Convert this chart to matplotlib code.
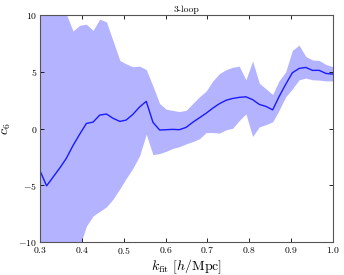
import matplotlib
matplotlib.use("Agg")
import matplotlib.pyplot as plt

plt.rcParams['mathtext.fontset'] = 'cm'
plt.rcParams['font.family'] = 'serif'
plt.rcParams['font.serif'] = ['cmr10', 'DejaVu Serif']
plt.rcParams['axes.formatter.use_mathtext'] = True
plt.rcParams['axes.unicode_minus'] = True

k_fit = [0.300, 0.316, 0.332, 0.348, 0.363, 0.379, 0.395, 0.411, 0.427, 0.443,
         0.459, 0.475, 0.491, 0.506, 0.522, 0.538, 0.554, 0.570, 0.586, 0.602,
         0.617, 0.633, 0.649, 0.665, 0.681, 0.697, 0.713, 0.729, 0.745, 0.760,
         0.776, 0.792, 0.808, 0.824, 0.840, 0.856, 0.871, 0.887, 0.903, 0.919,
         0.935, 0.951, 0.967, 0.983, 1.000]

c6_mean = [-3.7, -5.05, -4.25, -3.45, -2.63, -1.5, -0.5, 0.45, 0.57, 1.19,
           1.28, 0.9, 0.63, 0.75, 1.25, 1.9, 2.4, 0.55, -0.13, -0.1,
           -0.07, -0.1, 0.1, 0.55, 0.95, 1.35, 1.8, 2.2, 2.5, 2.65,
           2.75, 2.8, 2.55, 2.13, 1.95, 1.65, 2.8, 3.9, 4.92, 5.3,
           5.39, 5.13, 5.13, 4.86, 4.8]

c6_upper = [11.5, 11.5, 11.5, 11.5, 10.1, 8.6, 9.1, 9.2, 8.65, 9.65,
            9.4, 7.7, 6.0, 5.7, 5.45, 5.5, 5.2, 3.75, 2.2, 1.7,
            1.6, 1.5, 1.6, 2.2, 2.8, 3.3, 4.2, 4.85, 5.2, 5.4,
            5.5, 4.3, 5.95, 4.0, 3.5, 3.0, 4.2, 5.0, 6.9, 7.35,
            6.35, 6.05, 6.0, 5.65, 5.45]

c6_lower = [-11.5, -11.5, -11.5, -11.5, -11.5, -11.0, -10.4, -8.6, -7.7, -7.3,
            -6.9, -6.2, -5.3, -4.4, -3.5, -2.4, -0.5, -2.3, -2.2, -2.0,
            -1.75, -1.6, -1.35, -1.15, -0.9, -0.35, -0.35, -0.4, -0.1, 0.02,
            0.7, 1.3, -0.7, 0.15, 0.35, 0.6, 1.6, 2.8, 3.5, 4.3,
            4.45, 4.3, 4.27, 4.2, 4.2]

fig = plt.figure(figsize=(3.44, 2.75), dpi=100)
ax = fig.add_axes([0.116, 0.12, 0.852, 0.825])
ax.fill_between(k_fit, c6_lower, c6_upper, color='#b3b3ff', linewidth=0)
ax.plot(k_fit, c6_mean, color='#1a1aff', linewidth=1.0)

ax.set_xlim(0.3, 1.0)
ax.set_ylim(-10, 10)
ax.set_xticks([0.3, 0.4, 0.5, 0.6, 0.7, 0.8, 0.9, 1.0])
ax.set_yticks([-10, -5, 0, 5, 10])
ax.tick_params(direction='in', top=True, right=True, labelsize=7, length=3, width=0.6, pad=2)
for s in ax.spines.values():
    s.set_color('#555555')
    s.set_linewidth(0.8)
ax.set_title('3-loop', fontsize=7, pad=2)
ax.set_xlabel(r'$k_{\rm fit}\ [h/{\rm Mpc}]$', fontsize=10, labelpad=1)
ax.set_ylabel(r'$c_6$', fontsize=10, labelpad=4)

fig.savefig('out.png', dpi=100)
